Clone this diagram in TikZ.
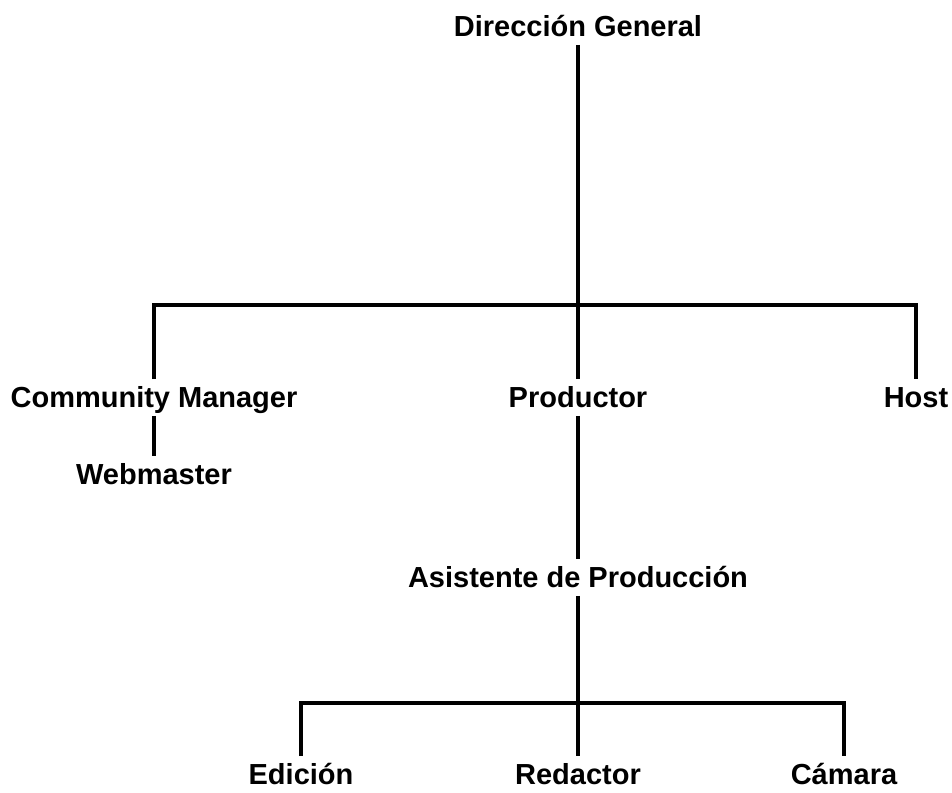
\documentclass[tikz,border=0pt]{standalone}
\usepackage{fontspec}
\setmainfont{Liberation Sans}
\begin{document}
\begin{tikzpicture}
  \tikzset{
    puesto/.style={font=\fontsize{16.5}{20}\selectfont\bfseries,
      inner sep=0pt, outer ysep=0.16cm, text height=11.9pt, text depth=0pt, anchor=base},
    linea/.style={line width=1.8pt}}
  \useasboundingbox (0,0) rectangle (19.04,-15.86);
      \node[puesto](dg) at (11.56,-0.74){Dirección General};
        \node[puesto](cm) at (3.08,-8.16){Community Manager};
        \node[puesto](prod) at (11.56,-8.16){Productor};
        \node[puesto](host) at (18.32,-8.16){Host};
                \node[puesto](web) at (3.08,-9.70){Webmaster};
                \node[puesto](asis) at (11.56,-11.76){Asistente de Producción};
          \node[puesto](edi) at (6.02,-15.70){Edición};
          \node[puesto](red) at (11.56,-15.70){Redactor};
          \node[puesto](cam) at (16.88,-15.70){Cámara};

  \coordinate (b1) at (11.56,-6.10);
  \coordinate (b2) at (11.56,-14.06);

          \draw[linea](dg.south)--(prod.north);
          \draw[linea](cm.north)|-(b1)-|(host.north);
          \draw[linea](cm.south)--(web.north);
          \draw[linea](prod.south)--(asis.north);
          \draw[linea](asis.south)--(red.north);
  \draw[linea](edi.north)|-(b2)-|(cam.north);

\end{tikzpicture}
\end{document}
